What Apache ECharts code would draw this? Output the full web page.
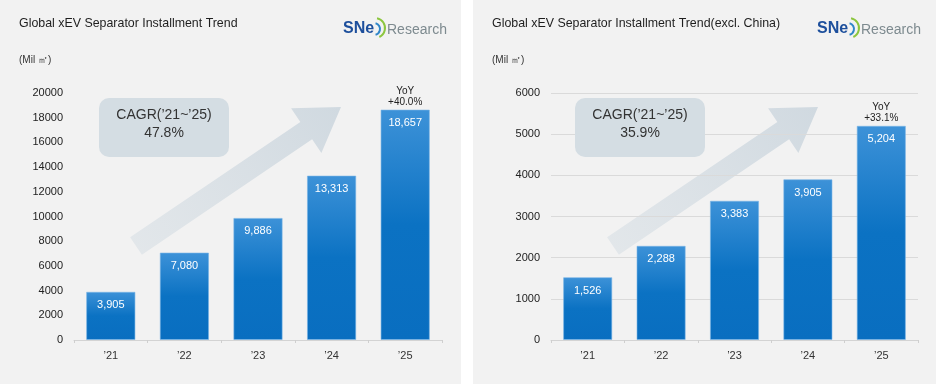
<!DOCTYPE html>
<html>
<head>
<meta charset="utf-8">
<script src="https://cdn.jsdelivr.net/npm/echarts@6/dist/echarts.min.js"></script>
<style>html,body{margin:0;padding:0;background:#fff}#c{width:936px;height:384px}</style>
</head>
<body>
<div id="c"></div>
<script>
// ---- data ----
var categories = ['\u201921', '\u201922', '\u201923', '\u201924', '\u201925'];
var globalValues = [3905, 7080, 9886, 13313, 18657];
var exChinaValues = [1526, 2288, 3383, 3905, 5204];
var globalYoY = ['', '', '', '', '+40.0%'];
var exChinaYoY = ['', '', '', '', '+33.1%'];
var leftTicks = {min: 0, max: 20000, interval: 2000};
var rightTicks = {min: 0, max: 6000, interval: 1000};
var titles = ['Global xEV Separator Installment Trend', 'Global xEV Separator Installment Trend(excl. China)'];
var cagrText = [['CAGR(\u201921~\u201925)', '47.8%'], ['CAGR(\u201921~\u201925)', '35.9%']];
var unitText = '(Mil \u33A1)';

var FONT = '"Liberation Sans", Arial, sans-serif';
var chart = echarts.init(document.getElementById('c'), null, {renderer: 'canvas'});

function fmt(v) { return v.toString().replace(/\B(?=(\d{3})+(?!\d))/g, ','); }

var barColor = new echarts.graphic.LinearGradient(0, 0, 0, 1, [
  {offset: 0, color: '#3d92d8'},
  {offset: 0.5, color: '#0b72c3'},
  {offset: 1, color: '#096ec0'}
]);

function arrowPoints(x0, y0, x1, y1, shaftW, headW, headL) {
  var dx = x1 - x0, dy = y1 - y0, L = Math.sqrt(dx * dx + dy * dy);
  var ux = dx / L, uy = dy / L, nx = -uy, ny = ux;
  var local = [
    [0, -shaftW / 2], [L - headL, -shaftW / 2], [L - headL, -headW / 2], [L, 0],
    [L - headL, headW / 2], [L - headL, shaftW / 2], [0, shaftW / 2]
  ];
  return local.map(function (p) { return [x0 + ux * p[0] + nx * p[1], y0 + uy * p[0] + ny * p[1]]; });
}

function panelGraphics(ox, idx, panelW) {
  var g = [];
  g.push({type: 'rect', z: -10, shape: {x: ox, y: 0, width: panelW, height: 384}, style: {fill: '#f2f2f2'}});
  g.push({type: 'text', x: ox + 19, y: 24, style: {text: titles[idx], font: '12.4px ' + FONT, fill: '#1e1e1e', verticalAlign: 'middle'}});
  g.push({type: 'text', x: ox + 19, y: 60, style: {text: unitText, font: '10px ' + FONT, fill: '#333', verticalAlign: 'middle'}});
  // logo
  var lx = ox + 343 + (idx === 1 ? 1 : 0);
  g.push({type: 'text', x: lx, y: 29, style: {text: 'SNe', font: 'bold 16px ' + FONT, fill: '#1d4f9c', verticalAlign: 'middle'}});
  g.push({type: 'arc', shape: {cx: lx + 31, cy: 29, r: 6, startAngle: -Math.PI / 2.4, endAngle: Math.PI / 2.4}, style: {stroke: '#2f86c8', lineWidth: 2, fill: null}});
  g.push({type: 'arc', shape: {cx: lx + 32, cy: 28, r: 10, startAngle: -Math.PI / 2.3, endAngle: Math.PI / 2.8}, style: {stroke: '#8cc63f', lineWidth: 2, fill: null}});
  g.push({type: 'text', x: lx + 44, y: 30, style: {text: 'Research', font: '14px ' + FONT, fill: '#7d8a8f', verticalAlign: 'middle'}});
  // arrow
  var ax = ox + (idx === 1 ? 4 : 0);
  g.push({type: 'polygon', z: 0, shape: {points: arrowPoints(ax + 136, 246, ax + 341, 107, 21, 54, 42)},
    style: {fill: new echarts.graphic.LinearGradient(0, 1, 1, 0, [
      {offset: 0, color: 'rgba(214,222,228,0.55)'},
      {offset: 1, color: 'rgba(208,217,224,1)'}
    ])}});
  // CAGR box
  var bx = ox + 99 + (idx === 1 ? 3 : 0);
  g.push({type: 'rect', z: 1, shape: {x: bx, y: 98, width: 130, height: 59, r: 10}, style: {fill: '#d4dde3'}});
  g.push({type: 'text', z: 2, x: bx + 65, y: 115, style: {text: cagrText[idx][0], font: '14px ' + FONT, fill: '#333', align: 'center', verticalAlign: 'middle'}});
  g.push({type: 'text', z: 2, x: bx + 65, y: 133, style: {text: cagrText[idx][1], font: '14px ' + FONT, fill: '#333', align: 'center', verticalAlign: 'middle'}});
  return g;
}

var graphics = [].concat(panelGraphics(0, 0, 461), panelGraphics(473, 1, 463));

function xAxisCfg(gi) {
  return {
    type: 'category', gridIndex: gi, data: categories,
    axisLine: {lineStyle: {color: '#d3d3d3'}},
    axisTick: {show: true, length: 3, lineStyle: {color: '#cfcfcf'}},
    axisLabel: {color: '#333', fontSize: 11, fontFamily: FONT, margin: 10}
  };
}
function yAxisCfg(gi, t, split) {
  return {
    type: 'value', gridIndex: gi, min: t.min, max: t.max, interval: t.interval,
    axisLine: {show: false}, axisTick: {show: false},
    splitLine: {show: split, lineStyle: {color: '#dadada'}},
    axisLabel: {color: '#222', fontSize: 11, fontFamily: FONT, margin: 11,
      formatter: function (v) { return String(v); }}
  };
}
function barSeries(gi, vals) {
  return {
    type: 'bar', xAxisIndex: gi, yAxisIndex: gi, data: vals, barWidth: '67%', z: 3,
    itemStyle: {color: barColor, borderColor: 'rgba(120,180,230,0.6)', borderWidth: 1},
    label: {show: true, position: 'insideTop', distance: 8, color: '#fff', fontSize: 11, fontFamily: FONT,
      formatter: function (p) { return fmt(p.value); }}
  };
}
function yoySeries(gi, vals, yoy) {
  return {
    type: 'bar', xAxisIndex: gi, yAxisIndex: gi, data: vals, barWidth: '67%', barGap: '-100%', z: 4,
    itemStyle: {color: 'rgba(0,0,0,0)'}, silent: true,
    label: {show: true, position: 'top', distance: 2, color: '#222', fontSize: 10, lineHeight: 11, fontFamily: FONT,
      formatter: function (p) { return yoy[p.dataIndex] ? 'YoY\n' + yoy[p.dataIndex] : ''; }}
  };
}

chart.setOption({
  animation: false,
  backgroundColor: '#ffffff',
  textStyle: {fontFamily: FONT},
  graphic: graphics,
  grid: [
    {left: 74, top: 93, width: 368, height: 247, containLabel: false},
    {left: 551, top: 93, width: 367, height: 247, containLabel: false}
  ],
  xAxis: [xAxisCfg(0), xAxisCfg(1)],
  yAxis: [yAxisCfg(0, leftTicks, false), yAxisCfg(1, rightTicks, true)],
  series: [
    barSeries(0, globalValues), yoySeries(0, globalValues, globalYoY),
    barSeries(1, exChinaValues), yoySeries(1, exChinaValues, exChinaYoY)
  ]
});
</script>
</body>
</html>
